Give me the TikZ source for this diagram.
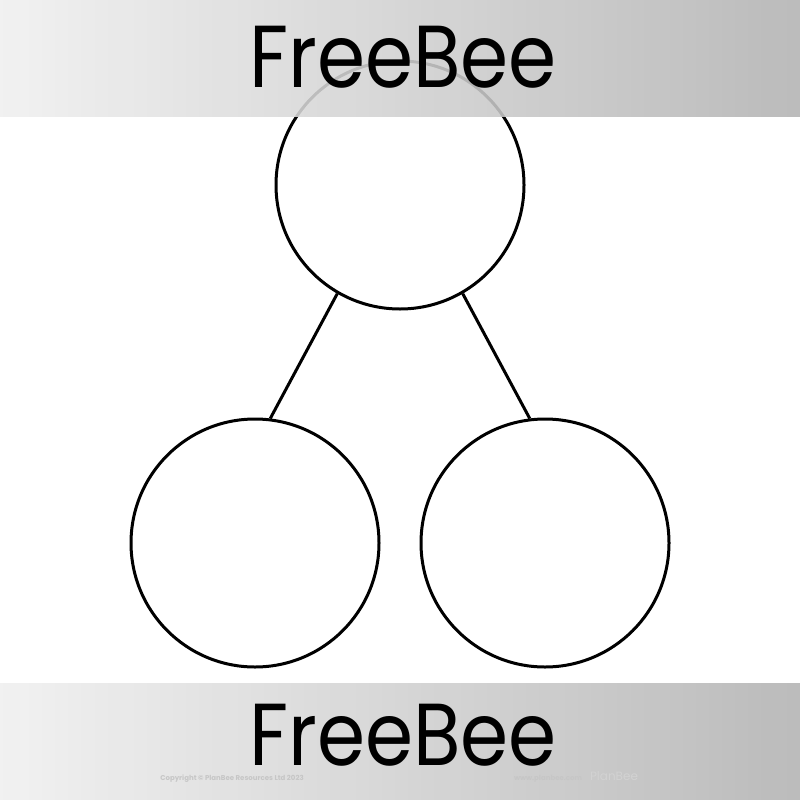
\documentclass[tikz,border=0pt]{standalone}
\usepackage{fontspec}
\setmainfont{Poppins}
\begin{document}
\begin{tikzpicture}[x=1pt,y=-1pt,line width=3pt,
    bubble/.style={draw,circle,minimum size=248,inner sep=0pt},
    banner/.style={left color=gray!12,right color=gray!60,draw=none,fill opacity=0.88},
    title/.style={font=\fontsize{88}{88}\selectfont,text=black,anchor=base,inner sep=0pt,text depth=0pt},
    tiny/.style={font=\fontsize{7}{7}\selectfont\bfseries,text=gray!45,anchor=base,inner sep=0pt,text depth=0pt}]
    \useasboundingbox (0,0) rectangle (800,800);
    \fill[white] (0,0) rectangle (800,800);
    % the three circles
    \node[bubble] (Whole) at (400,185) {};
    \node[bubble] (PartA) at (255,543) {};
    \node[bubble] (PartB) at (545,543) {};
    \draw (Whole.240) -- (PartA.83);
    \draw (Whole.300) -- (PartB.97);
    % banners
    \shade[banner] (0,0) rectangle (800,116);
    \shade[banner] (0,683) rectangle (800,800);
    \node[title] (TopTitle) at (403,87) {\scalebox{0.88}[1]{FreeBee}};
    \node[title] (BotTitle) at (403,765) {\scalebox{0.88}[1]{FreeBee}};
    \begin{scope}[every node/.style={tiny}]
        \node (Copy) at (232,780) {Copyright © PlanBee Resources Ltd 2023};
        \node (Web) at (548,780) {www.planbee.com};
        \node[font=\fontsize{12}{12}\selectfont,text=gray!35] (Logo) at (614,780) {PlanBee};
    \end{scope}
\end{tikzpicture}
\end{document}
